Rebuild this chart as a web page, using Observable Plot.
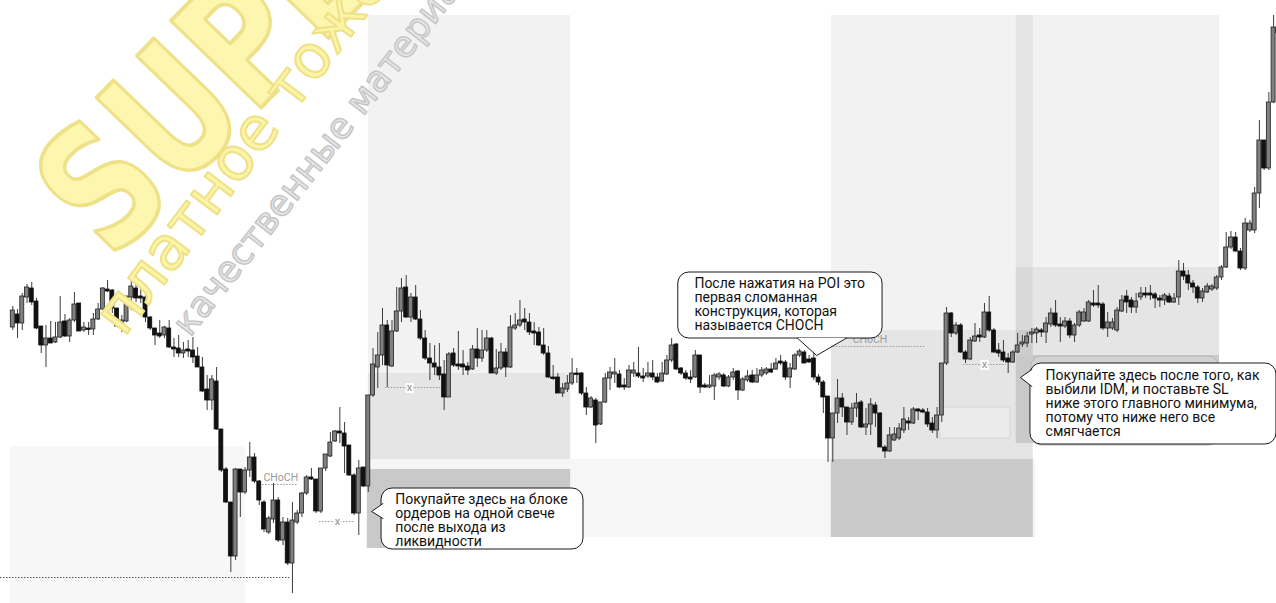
<!DOCTYPE html>
<html><head><meta charset="utf-8">
<script src="https://cdn.jsdelivr.net/npm/d3@7"></script>
<script src="https://cdn.jsdelivr.net/npm/@observablehq/plot@0.6"></script>
<style>html,body{margin:0;padding:0;background:#fff;overflow:hidden}#chart svg{display:block}</style>
</head><body><div id="chart"></div>
<script>
// Price levels are given in chart "depth" units (0 = top of chart, larger = lower price)
const bodyOpen = [327,314,323,297,288,301,326,345,338,342,337,321,336,320,303,330,328,329,319,309,289,290,308,326,321,297,288,296,297,317,328,333,335,328,347,348,353,349,350,356,367,389,400,381,429,469,502,556,469,492,470,457,481,502,532,519,500,540,522,563,522,513,493,477,479,511,468,456,441,431,433,445,475,513,467,486,395,367,355,325,366,331,311,287,317,297,319,338,358,363,367,374,397,353,364,364,366,369,349,358,350,338,373,368,352,367,328,325,319,322,331,332,345,353,377,377,393,389,383,373,373,393,407,400,424,402,378,374,374,385,387,373,373,376,376,373,377,381,374,360,344,368,373,377,377,355,385,387,386,377,375,386,377,371,390,380,375,382,375,373,369,369,361,362,377,369,355,352,359,358,377,382,396,438,413,398,407,422,408,402,427,424,405,413,447,451,440,438,430,421,423,409,410,412,423,430,415,363,313,333,325,352,359,341,335,337,312,330,350,352,358,362,352,344,343,334,333,330,332,324,313,324,326,321,335,325,321,321,303,303,304,328,328,330,311,296,300,307,297,293,293,294,298,300,296,302,297,271,275,283,287,298,292,289,288,277,267,247,237,251,268,230,230,193,140,168,102,27];
const bodyClose = [310,323,296,287,302,328,345,338,343,337,322,336,320,304,331,327,329,319,309,288,291,308,326,320,296,286,298,298,317,328,335,336,327,347,349,353,350,351,357,367,391,400,379,429,470,502,556,469,492,470,457,481,500,529,518,500,540,522,563,520,513,493,477,479,511,468,454,442,431,433,446,475,513,468,486,395,364,355,325,365,331,311,288,317,297,319,338,358,363,367,375,397,354,365,366,367,370,349,358,350,338,373,368,352,367,327,325,320,322,332,333,345,353,377,378,393,388,383,373,374,393,407,398,425,402,378,372,372,387,387,370,370,376,378,373,377,382,373,360,345,369,373,378,379,355,387,387,385,375,374,386,377,372,390,379,376,382,375,370,369,372,363,363,377,368,355,351,363,362,377,382,397,438,413,398,407,422,408,403,427,424,404,413,447,451,435,434,428,419,423,409,411,412,424,430,415,363,313,333,325,352,359,340,336,337,312,330,352,353,360,362,352,345,342,336,332,329,332,323,313,325,326,321,335,325,312,312,302,305,305,328,322,322,310,300,302,307,301,293,295,295,298,300,295,302,298,271,276,283,287,298,291,286,286,277,267,247,237,251,268,223,223,193,140,168,102,27,33];
const wickTop = [306,309,293,284,282,298,326,325,321,322,296,314,318,292,303,322,322,313,303,287,280,289,308,315,296,280,276,282,285,316,328,320,326,320,338,335,342,340,337,347,357,375,375,367,429,467,502,468,469,467,442,453,480,500,516,483,497,517,518,502,510,492,475,468,479,468,454,432,430,407,422,445,473,460,467,395,348,332,308,320,320,287,278,275,293,285,310,330,343,345,343,360,352,348,331,350,362,345,328,330,330,337,349,343,348,315,313,300,308,313,322,327,328,346,365,373,383,375,358,368,372,387,396,398,402,373,367,358,370,378,365,362,347,368,362,360,373,362,355,338,343,367,370,370,350,355,383,375,373,372,373,375,368,370,377,370,370,368,367,367,363,358,355,360,363,353,349,350,355,349,374,380,396,413,379,393,407,403,393,400,408,398,402,412,445,427,427,423,407,417,407,408,408,408,417,407,363,307,312,322,323,350,337,323,328,303,296,328,343,340,353,350,333,335,332,328,327,328,317,308,300,317,317,318,323,310,308,300,290,285,302,312,318,307,295,290,297,293,287,287,285,292,295,293,293,293,260,263,270,280,285,288,283,284,275,265,232,231,232,248,218,220,187,120,140,92,15,25];
const wickBottom = [330,338,330,303,305,329,353,367,343,343,338,337,342,322,331,332,335,335,320,310,292,313,327,332,322,310,302,303,322,330,345,338,338,348,357,357,358,357,363,367,392,410,410,430,472,503,572,560,517,494,477,483,505,532,534,523,542,545,565,593,524,517,495,480,513,513,471,457,442,443,473,476,515,535,487,492,397,388,365,387,367,332,322,318,322,320,340,360,380,375,380,410,397,367,370,375,375,370,367,362,352,373,375,370,377,368,330,327,330,335,345,346,355,378,380,393,397,392,385,383,395,415,408,443,425,403,390,383,388,390,388,377,378,382,378,380,383,382,375,362,370,375,380,383,378,393,388,388,400,380,387,387,380,400,391,382,383,383,377,375,373,370,365,380,388,370,357,363,363,380,385,413,462,462,423,417,435,425,417,428,435,435,427,447,458,452,441,440,433,430,424,420,413,427,433,438,422,365,337,335,353,363,360,342,342,338,332,353,357,362,373,363,353,347,347,343,343,337,343,327,327,342,328,338,342,327,322,322,307,308,330,337,330,332,312,313,313,313,300,298,300,308,307,305,303,303,305,280,290,293,303,302,293,291,290,280,268,249,252,270,270,232,233,208,170,170,103,36];

// Annotation zones (x in candle index, y in depth units)
const zoneLight = [
  {x1: -0.5, x2: 49.1, y1: 446, y2: 603, o: 0.03},
  {x1: 75.0, x2: 117.7, y1: 15, y2: 459, o: 0.05},
  {x1: 75.0, x2: 117.7, y1: 373, y2: 459, o: 0.05},
  {x1: 75.0, x2: 215.8, y1: 459, y2: 537, o: 0.035},
  {x1: 172.7, x2: 215.3, y1: 15, y2: 459, o: 0.05},
  {x1: 172.7, x2: 215.3, y1: 330, y2: 459, o: 0.05},
  {x1: 211.7, x2: 254.6, y1: 15, y2: 355, o: 0.05},
  {x1: 211.7, x2: 254.6, y1: 267, y2: 355, o: 0.05}
];
const zoneDark = [
  {x1: 74.8, x2: 117.7, y1: 469, y2: 548},
  {x1: 172.7, x2: 215.3, y1: 459, y2: 537},
  {x1: 211.7, x2: 254.6, y1: 355, y2: 443}
];
const smallBox = [{x1: 195.7, x2: 210.5, y1: 407, y2: 438}];
const ghostBox = [{x1: 214.9, x2: 254.4, y1: 356, y2: 445}];

const levelLines = [
  {y: 577, x1: -2.6, x2: 58.6, c: "#555"},
  {y: 484, x1: 52.7, x2: 60.0, c: "#999"},
  {y: 521, x1: 64.7, x2: 72.3, c: "#999"},
  {y: 387, x1: 78.6, x2: 90.9, c: "#999"},
  {y: 346, x1: 173.1, x2: 192.5, c: "#999"},
  {y: 364, x1: 200.6, x2: 209.6, c: "#999"}
];
const chochLabels = [
  {x: 52.9, y: 477, t: "CHoCH"},
  {x: 177.2, y: 339, t: "CHoCH"}
];
const idmLabels = [
  {x: 68.5, y: 521, t: "x"},
  {x: 83.7, y: 387, t: "x"},
  {x: 205.0, y: 364, t: "x"}
];

const calloutBoxes = [
  {x1: 77.8, x2: 120.4, y1: 488, y2: 549},
  {x1: 140.4, x2: 183.5, y1: 272, y2: 338},
  {x1: 214.7, x2: 266.6, y1: 363, y2: 444}
];
const calloutTails = [
  [{x: 78.1, y: 503}, {x: 75.7, y: 511}, {x: 78.1, y: 518}],
  [{x: 165.5, y: 337.5}, {x: 169.6, y: 355}, {x: 175.9, y: 337.5}],
  [{x: 215.0, y: 369}, {x: 212.6, y: 377}, {x: 215.0, y: 386}]
];
const calloutTexts = [
  {x: 80.7, y: 520.5, t: "Покупайте здесь на блоке\nордеров на одной свече\nпосле выхода из\nликвидности"},
  {x: 143.8, y: 304, t: "После нажатия на POI это\nпервая сломанная\nконструкция, которая\nназывается CHOCH"},
  {x: 217.9, y: 403.5, t: "Покупайте здесь после того, как\nвыбили IDM, и поставьте SL\nниже этого главного минимума,\nпотому что ниже него все\nсмягчается"}
];

const candles = bodyOpen.map((o, i) => ({i, o, c: bodyClose[i], t: wickTop[i], b: wickBottom[i]}));
const ups = candles.filter(d => d.c < d.o);
const downs = candles.filter(d => d.c >= d.o);
const bodyTop = d => Math.min(d.o, d.c);
const bodyBot = d => Math.max(d.o, d.c, Math.min(d.o, d.c) + 1.5);

const font = "Roboto, 'Noto Sans', sans-serif";

const chart = Plot.plot({
  width: 1276, height: 603,
  margin: 0,
  style: {background: "#fff", overflow: "hidden"},
  x: {type: "linear", domain: [0, 266], range: [12.3, 1273.1], axis: null},
  y: {domain: [0, 603], range: [0, 603], axis: null},
  marks: [
    Plot.rect(zoneLight, {x1: "x1", x2: "x2", y1: "y1", y2: "y2", fill: "#000", fillOpacity: d => d.o}),
    Plot.rect(zoneDark, {x1: "x1", x2: "x2", y1: "y1", y2: "y2", fill: "#c9c9c9"}),
    Plot.rect(smallBox, {x1: "x1", x2: "x2", y1: "y1", y2: "y2", fill: "#ebebeb", stroke: "#d6d6d6"}),
    Plot.ruleY(levelLines, {y: "y", x1: "x1", x2: "x2", stroke: "c", strokeDasharray: "1.5,1.5"}),
    Plot.ruleX(candles, {x: "i", y1: "t", y2: "b", stroke: "#3c3c3c", strokeWidth: 1}),
    Plot.rect(ups, {x1: d => d.i - 0.42, x2: d => d.i + 0.42, y1: bodyTop, y2: bodyBot, fill: "#808080", stroke: "#1e1e1e", strokeWidth: 0.8}),
    Plot.rect(downs, {x1: d => d.i - 0.42, x2: d => d.i + 0.42, y1: bodyTop, y2: bodyBot, fill: "#111", stroke: "#111", strokeWidth: 0.8}),
    Plot.text(chochLabels, {x: "x", y: "y", text: "t", fill: "#9b9b9b", fontSize: 10.5, fontFamily: font, textAnchor: "start"}),
    Plot.text(idmLabels, {x: "x", y: "y", text: "t", fill: "#8f8f8f", fontSize: 11, fontFamily: font, textAnchor: "middle", stroke: "white", strokeWidth: 4}),
    Plot.rect(ghostBox, {x1: "x1", x2: "x2", y1: "y1", y2: "y2", fill: "#d3d3d3", stroke: "#b8b8b8", rx: 10}),
    Plot.rect(calloutBoxes, {x1: "x1", x2: "x2", y1: "y1", y2: "y2", fill: "white", stroke: "#1a1a1a", strokeWidth: 1, rx: 11}),
    ...calloutTails.map(tail => Plot.line(tail, {x: "x", y: "y", fill: "white", stroke: "#1a1a1a", strokeWidth: 1, curve: "linear"})),
    Plot.text(calloutTexts, {x: "x", y: "y", text: "t", textAnchor: "start", lineAnchor: "middle", lineHeight: 1.0, fontSize: 14, fontFamily: font, fill: "#111"})
  ]
});
document.getElementById("chart").appendChild(chart);

// Watermark overlay
const svg = d3.select(chart);
const wm = svg.append("g").attr("pointer-events", "none").attr("text-anchor", "start");
wm.append("text").attr("transform", "translate(112,262) rotate(-46) scale(1,1.3)")
  .attr("font-family", "'DejaVu Sans'").attr("font-weight", "bold").attr("font-size", 132)
  .attr("fill", "#fdf6ae").attr("stroke", "#eee188").attr("stroke-width", 3).attr("stroke-linejoin", "round")
  .text("SUPERSLIV");
wm.append("text").attr("transform", "translate(124,338) rotate(-53)")
  .attr("font-family", "'DejaVu Sans'").attr("font-size", 60)
  .attr("fill", "#fcf4a6").attr("stroke", "#eee188").attr("stroke-width", 2).attr("stroke-linejoin", "round")
  .text("платное тоже бесплатно");
wm.append("text").attr("transform", "translate(190,338) rotate(-52)")
  .attr("font-family", "'DejaVu Sans'").attr("font-size", 36)
  .attr("fill", "#e9e9e9").attr("stroke", "#c6c6c6").attr("stroke-width", 1.5).attr("stroke-linejoin", "round")
  .text("качественные материалы");
</script>
</body></html>
